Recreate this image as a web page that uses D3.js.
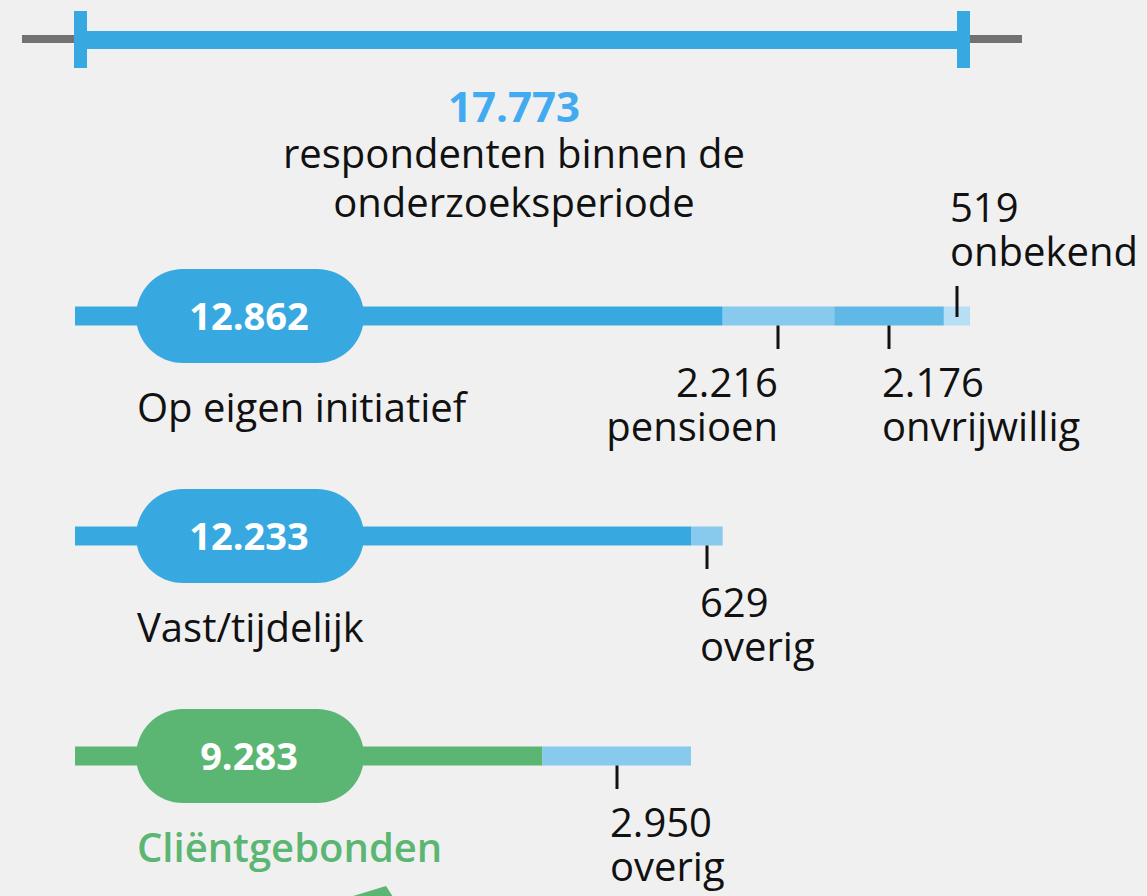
<!DOCTYPE html>
<html>
<head>
<meta charset="utf-8">
<script src="https://cdn.jsdelivr.net/npm/d3@7"></script>
<style>
  html, body { margin: 0; padding: 0; background: #f0f0f0; }
  svg { display: block; font-family: "Open Sans", "Noto Sans", sans-serif; }
</style>
</head>
<body>
<svg id="chart" width="1147" height="896"></svg>
<script>
// ---- data ----
const totalRespondents = 17773;
const titleLines = ["respondenten binnen de", "onderzoeksperiode"];
const categories = ["Op eigen initiatief", "Vast/tijdelijk", "Cliëntgebonden"];
const mainValues = [12862, 12233, 9283];
const partValues = [[2216, 2176, 519], [629], [2950]];
const partNames = [["pensioen", "onvrijwillig", "onbekend"], ["overig"], ["overig"]];

// ---- styles ----
const blue = "#38a9e0";
const green = "#5bb673";
const rowColors = [blue, blue, green];
const partColors = [["#88caee", "#60b8e6", "#b6dff5"], ["#88caee"], ["#88caee"]];
const labelColors = ["#111", "#111", green];
const labelWeights = [400, 400, 600];
const placements = [
  [{side: "below", anchor: "end"}, {side: "below", anchor: "start"}, {side: "above", anchor: "start"}],
  [{side: "below", anchor: "start"}],
  [{side: "below", anchor: "start"}]
];

const fmt = d3.formatLocale({decimal: ",", thousands: ".", grouping: [3], currency: ["€", ""]}).format(",d");

const svg = d3.select("#chart");
const x = d3.scaleLinear().domain([0, totalRespondents]).range([75, 970]);
const rowY = d3.scalePoint().domain(categories).range([316, 756]);

// ---- top total bar ----
const topG = svg.append("g");
topG.append("line")
  .attr("x1", x(0) - 53).attr("x2", x(totalRespondents) + 52)
  .attr("y1", 39).attr("y2", 39)
  .attr("stroke", "#727272").attr("stroke-width", 8);
topG.append("rect")
  .attr("x", x(0) - 1).attr("y", 31)
  .attr("width", x(totalRespondents) - x(0) + 1).attr("height", 18)
  .attr("fill", blue);
[x(0) - 1, x(totalRespondents) - 13].forEach(cx => {
  topG.append("rect").attr("x", cx).attr("y", 11).attr("width", 13).attr("height", 57).attr("fill", blue);
});
const cxTitle = 514;
topG.append("text")
  .attr("x", cxTitle).attr("y", 122).attr("text-anchor", "middle")
  .attr("font-size", 42).attr("font-weight", 700).attr("fill", "#42aaf0")
  .text(fmt(totalRespondents));
const titleText = topG.append("text")
  .attr("x", cxTitle).attr("y", 168).attr("text-anchor", "middle")
  .attr("font-size", 40).attr("fill", "#111");
titleLines.forEach((t, i) => {
  titleText.append("tspan").attr("x", cxTitle).attr("dy", i === 0 ? 0 : 49).text(t);
});

// two-line label helper
function twoLine(g, xPos, yPos, anchor, l1, l2) {
  const t = g.append("text").attr("x", xPos).attr("y", yPos)
    .attr("text-anchor", anchor).attr("font-size", 40).attr("fill", "#111");
  t.append("tspan").attr("x", xPos).attr("dy", 0).text(l1);
  t.append("tspan").attr("x", xPos).attr("dy", 44).text(l2);
}

// ---- rows ----
categories.forEach((cat, i) => {
  const cy = rowY(cat);
  const g = svg.append("g");
  const barH = 19;
  g.append("rect")
    .attr("x", x(0)).attr("y", cy - barH / 2)
    .attr("width", x(mainValues[i]) - x(0)).attr("height", barH)
    .attr("fill", rowColors[i]);
  let acc = mainValues[i];
  partValues[i].forEach((v, j) => {
    const x0 = x(acc), x1 = x(acc + v);
    g.append("rect")
      .attr("x", x0).attr("y", cy - barH / 2)
      .attr("width", x1 - x0).attr("height", barH)
      .attr("fill", partColors[i][j]);
    const tx = Math.round((x0 + x1) / 2);
    const p = placements[i][j];
    const lx = p.anchor === "end" ? tx : tx - 7;
    if (p.side === "below") {
      g.append("line").attr("x1", tx).attr("x2", tx)
        .attr("y1", cy + barH / 2).attr("y2", cy + 33)
        .attr("stroke", "#111").attr("stroke-width", 3);
      twoLine(g, lx, cy + 81, p.anchor, fmt(v), partNames[i][j]);
    } else {
      g.append("line").attr("x1", tx).attr("x2", tx)
        .attr("y1", cy - 30).attr("y2", cy + 1)
        .attr("stroke", "#111").attr("stroke-width", 3);
      twoLine(g, lx, cy - 94, p.anchor, fmt(v), partNames[i][j]);
    }
    acc += v;
  });
  g.append("rect")
    .attr("x", 136).attr("y", cy - 47).attr("width", 228).attr("height", 94)
    .attr("rx", 47).attr("ry", 47).attr("fill", rowColors[i]);
  g.append("text")
    .attr("x", 249).attr("y", cy + 14).attr("text-anchor", "middle")
    .attr("font-size", 38).attr("font-weight", 700).attr("fill", "#fff")
    .text(fmt(mainValues[i]));
  g.append("text")
    .attr("x", 137).attr("y", cy + 106)
    .attr("font-size", 40).attr("font-weight", labelWeights[i]).attr("fill", labelColors[i])
    .text(cat);
});

// decorative green arrow tip at bottom (partially visible)
svg.append("path")
  .attr("d", "M340,900 L386,886 L395,900 Z")
  .attr("fill", green);
</script>
</body>
</html>
